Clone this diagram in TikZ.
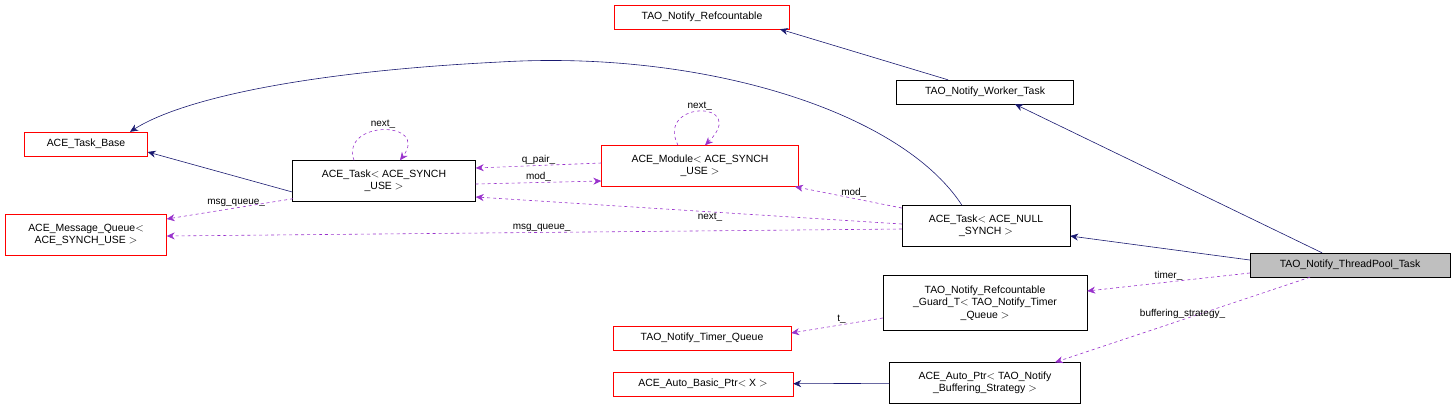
\documentclass[tikz,border=0pt]{standalone}
\usepackage{fontspec}
\setmainfont{Liberation Sans}
\usetikzlibrary{arrows.meta}
\definecolor{edgeblue}{RGB}{25,25,112}
\definecolor{edgepurple}{RGB}{153,50,204}
\begin{document}
\begin{tikzpicture}[x=1bp, y=-1bp, font=\fontsize{10.5}{12.5}\selectfont,
    cls/.style = {draw, rectangle, align=center, inner sep=2pt, minimum height=24bp},
    red/.style = {cls, draw=red},
    inh/.style = {edgeblue, semithick, -{Stealth[length=8bp,width=7bp]}},
    use/.style = {edgepurple, semithick, dashed, -{Stealth[length=8bp,width=7bp]}},
    lab/.style = {black, font=\fontsize{10}{11}\selectfont, inner sep=1pt}]
      \useasboundingbox (0,0) rectangle (1456,409);
      \node [red, minimum width=175bp] (refc) at (702, 17) {TAO\_Notify\_Refcountable};
      \node [cls, minimum width=177bp] (worker) at (985, 92) {TAO\_Notify\_Worker\_Task};
      \node [red, minimum width=123bp] (base) at (86, 144) {ACE\_Task\_Base};
      \node [cls, minimum width=183bp, minimum height=41bp] (tsynch) at (384, 181) {ACE\_Task$<$ ACE\_SYNCH\\\_USE $>$};
      \node [red, minimum width=197bp, minimum height=41bp] (module) at (700, 166) {ACE\_Module$<$ ACE\_SYNCH\\\_USE $>$};
      \node [red, minimum width=161bp, minimum height=41bp] (mq) at (86, 235) {ACE\_Message\_Queue$<$\\ACE\_SYNCH\_USE $>$};
      \node [cls, minimum width=168bp, minimum height=41bp] (tnull) at (986, 226) {ACE\_Task$<$ ACE\_NULL\\\_SYNCH $>$};
      \node [cls, fill=black!25, minimum width=200bp] (pool) at (1350, 265) {TAO\_Notify\_ThreadPool\_Task};
      \node [cls, minimum width=204bp, minimum height=55bp] (guard) at (985, 303) {TAO\_Notify\_Refcountable\\\_Guard\_T$<$ TAO\_Notify\_Timer\\\_Queue $>$};
      \node [red, minimum width=178bp] (timer) at (702, 338) {TAO\_Notify\_Timer\_Queue};
      \node [red, minimum width=180bp] (basicptr) at (703, 384) {ACE\_Auto\_Basic\_Ptr$<$ X $>$};
      \node [cls, minimum width=191bp, minimum height=41bp] (autoptr) at (985, 383) {ACE\_Auto\_Ptr$<$ TAO\_Notify\\\_Buffering\_Strategy $>$};

      % inheritance
      \draw [inh] ([xshift=-37bp]worker.north) -- ([xshift=78bp]refc.south);
      \draw [inh] ([xshift=-24bp]tnull.north) .. controls (900, 110) and (700, 50) .. (500, 62) .. controls (300, 72) and (180, 100) .. ([xshift=44bp]base.north);
      \draw [inh] ([yshift=-11bp]tsynch.west) -- ([yshift=-8bp]base.east);
      \draw [inh] ([xshift=-28bp]pool.north) -- ([xshift=30bp]worker.south);
      \draw [inh] ([yshift=5bp]pool.west) -- ([yshift=-10bp]tnull.east);
      \draw [inh] (autoptr) -- (basicptr);

      % usage
      \draw [use] ([xshift=-30bp]tsynch.north) .. controls (340, 120) and (430, 120) .. ([xshift=16bp]tsynch.north) node [lab, pos=.5, above] {next\_};
      \draw [use] ([xshift=-22bp]module.north) .. controls (655, 100) and (750, 100) .. ([xshift=5bp]module.north) node [lab, pos=.5, above] {next\_};
      \draw [use] ([yshift=3bp]module.west) -- node [lab, above] {q\_pair\_} ([yshift=13bp]tsynch.east);
      \draw [use] ([yshift=-3bp]tsynch.east) -- node [lab, above] {mod\_} ([yshift=-15bp]module.west);
      \draw [use] ([xshift=-91bp,yshift=3bp]tsynch.south) -- node [lab, above, pos=.45] {msg\_queue\_} ([yshift=16bp]mq.east);
      \draw [use] ([yshift=18bp]tnull.west) -- node [lab, above, pos=.45] {mod\_} ([xshift=95bp]module.south);
      \draw [use] ([yshift=2bp]tnull.west) -- node [lab, below, pos=.45] {next\_} ([yshift=-16bp]tsynch.east);
      \draw [use] ([yshift=-3bp]tnull.west) -- node [lab, above, pos=.49] {msg\_queue\_} ([yshift=-1bp]mq.east);
      \draw [use] ([yshift=-8bp]pool.west) -- node [lab, above, pos=.5] {timer\_} ([yshift=12bp]guard.east);
      \draw [use] ([xshift=-40bp]pool.south) -- node [lab, above, pos=.5] {buffering\_strategy\_} ([xshift=70bp]autoptr.north);
      \draw [use] ([yshift=-15bp]guard.west) -- node [lab, above, pos=.45] {t\_} ([yshift=5bp]timer.east);
\end{tikzpicture}
\end{document}
